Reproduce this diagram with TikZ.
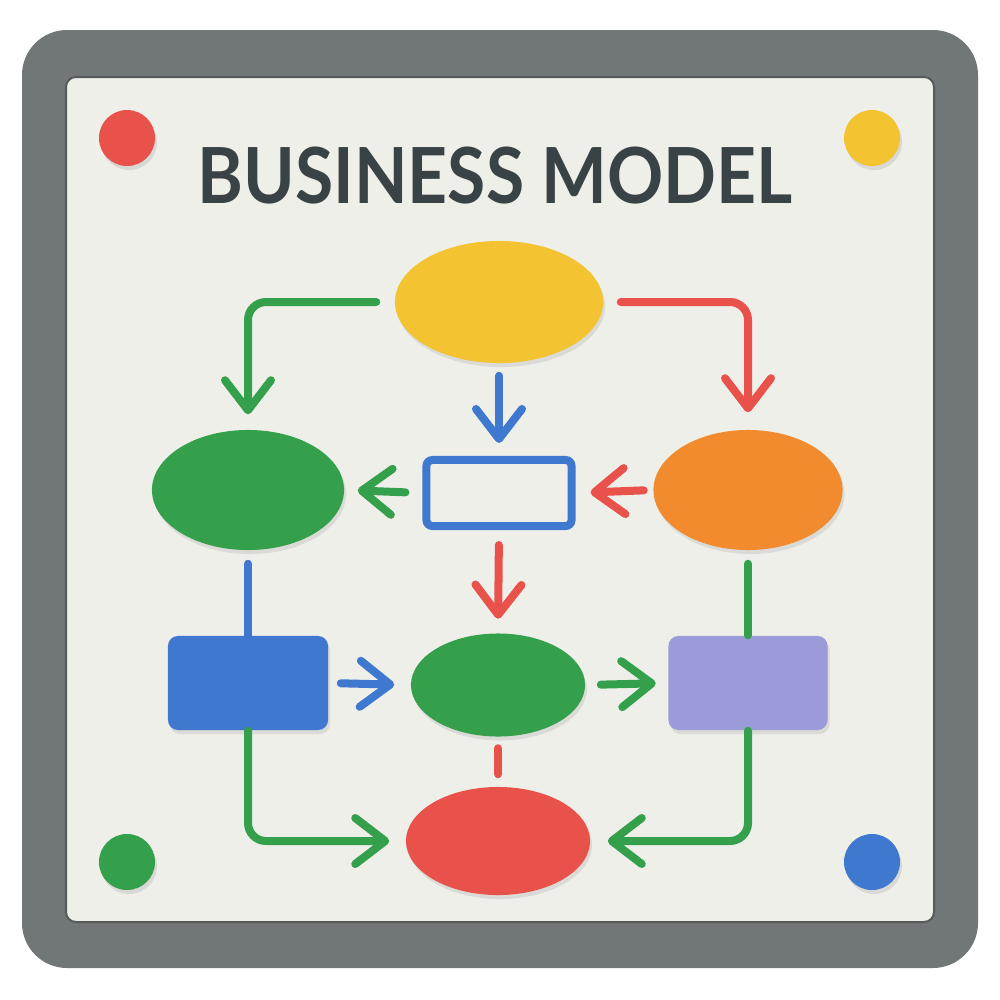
\documentclass[tikz,border=0pt]{standalone}
\usepackage{fontspec}
\newfontfamily\titlefont{Lato}
\usepackage{xcolor}
\usepackage{tikz}
\usetikzlibrary{shapes.geometric,arrows.meta,shadows}
\definecolor{rim}{HTML}{717676}
\definecolor{rimdark}{HTML}{555A5A}
\definecolor{board}{HTML}{EFEFEA}
\definecolor{ink}{HTML}{394346}
\definecolor{fyellow}{HTML}{F3C331}
\definecolor{fgreen}{HTML}{34A04B}
\definecolor{forange}{HTML}{F28A2E}
\definecolor{fblue}{HTML}{3F78CF}
\definecolor{fpurple}{HTML}{9B9BD9}
\definecolor{fred}{HTML}{E9524B}

\begin{document}
\begin{tikzpicture}[x=0.01cm,y=-0.01cm,
  blob/.style={ellipse,inner sep=0pt,
    drop shadow={opacity=0.18,shadow xshift=0.02cm,shadow yshift=-0.04cm}},
  card/.style={rectangle,inner sep=0pt,rounded corners=0.1cm,
    drop shadow={opacity=0.18,shadow xshift=0.02cm,shadow yshift=-0.04cm}},
  pin/.style={circle,inner sep=0pt,minimum size=0.56cm,
    drop shadow={opacity=0.2,shadow xshift=0.02cm,shadow yshift=-0.04cm}},
  link/.style={line width=0.08cm,line cap=round,rounded corners=0.18cm},
  tip/.style={link,-{Straight Barb[length=0.3cm,width=0.46cm,round]}}]
  \useasboundingbox (0,0) rectangle (1000,1000);
  \fill[white] (0,0) rectangle (1000,1000);
  % frame and board
  \fill[rim,rounded corners=0.45cm] (22,30) rectangle (978,968);
  \fill[board,draw=rimdark,line width=0.02cm,rounded corners=0.1cm]
    (66,77) rectangle (934,922);
  \node[pin,fill=fred]    (p1) at (127,138) {};
  \node[pin,fill=fyellow] (p2) at (872,138) {};
  \node[pin,fill=fgreen]  (p3) at (127,862) {};
  \node[pin,fill=fblue]   (p4) at (872,862) {};
  \node[text=ink] (title) at (495,176)
    {\scalebox{0.9}[1]{\titlefont\bfseries\fontsize{22}{22}\selectfont BUSINESS MODEL}};
  % chart
  \node[blob,fill=fyellow,minimum width=2.08cm,minimum height=1.22cm] (top) at (499,302) {};
  \node[blob,fill=fgreen,minimum width=1.92cm,minimum height=1.2cm] (lft) at (248,490) {};
  \node[blob,fill=forange,minimum width=1.89cm,minimum height=1.2cm] (rgt) at (748,490) {};
  \node[rectangle,draw=fblue,line width=0.08cm,rounded corners=0.06cm,
    minimum width=1.45cm,minimum height=0.66cm] (box) at (499,493) {};
  \node[card,fill=fblue,minimum width=1.6cm,minimum height=0.94cm] (bl) at (248,683) {};
  \node[blob,fill=fgreen,minimum width=1.74cm,minimum height=1.03cm] (mid) at (498,685) {};
  \node[card,fill=fpurple,minimum width=1.59cm,minimum height=0.94cm] (pr) at (748,683) {};
  \node[blob,fill=fred,minimum width=1.84cm,minimum height=1.08cm] (bot) at (498,841) {};
  % connectors
  \draw[tip,fgreen,shorten <=0.18cm,shorten >=0.15cm] (top.west) -| (lft.north);
  \draw[tip,fred,shorten <=0.17cm,shorten >=0.17cm] (top.east) -| (rgt.north);
  \draw[tip,fblue,shorten <=0.12cm,shorten >=0.13cm] (top.south) -- (box.north);
  \draw[tip,fgreen,shorten <=0.17cm,shorten >=0.13cm] (box.west) -- (lft.east);
  \draw[tip,fred,shorten <=0.09cm,shorten >=0.15cm] (rgt.west) -- (box.east);
  \draw[tip,fred,shorten <=0.15cm,shorten >=0.14cm] (box.south) -- (mid.north);
  \draw[link,fblue,shorten <=0.13cm] (lft.south) -- (bl.north);
  \draw[link,fgreen,shorten <=0.13cm] (rgt.south) -- (pr.north);
  \draw[tip,fblue,shorten <=0.12cm,shorten >=0.16cm] (bl.east) -- (mid.west);
  \draw[tip,fgreen,shorten <=0.15cm,shorten >=0.12cm] (mid.east) -- (pr.west);
  \draw[link,fred,shorten <=0.11cm,shorten >=0.12cm] (mid.south) -- (bot.north);
  \draw[tip,fgreen,shorten >=0.16cm] (bl.south) |- (bot.west);
  \draw[tip,fgreen,shorten >=0.17cm] (pr.south) |- (bot.east);
\end{tikzpicture}
\end{document}
